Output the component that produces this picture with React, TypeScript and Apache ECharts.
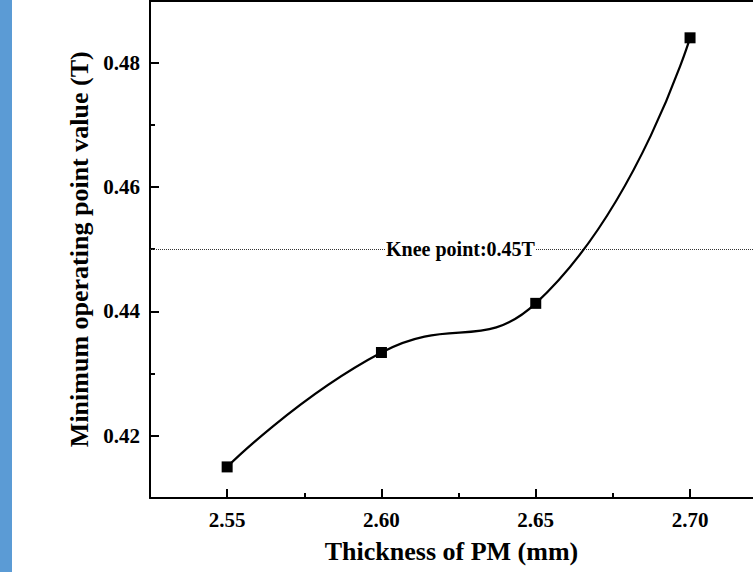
import React, { useEffect, useRef } from "react";
import * as echarts from "echarts";

const thickness = [2.55, 2.6, 2.65, 2.7];
const operatingPoint = [0.415, 0.4334, 0.4413, 0.484];
const xMajorTicks = [2.55, 2.6, 2.65, 2.7];
const xMinorTicks = [2.575, 2.625, 2.675];
const yMajorTicks = [0.42, 0.44, 0.46, 0.48];
const yMinorTicks = [0.43, 0.45, 0.47];
const kneeValue = 0.45;
const kneeLabel = "Knee point:0.45T";
const xTitle = "Thickness of PM (mm)";
const yTitle = "Minimum operating point value (T)";

const FONT = "'Liberation Serif', 'Times New Roman', serif";

export default function App() {
  const ref = useRef<HTMLDivElement>(null);
  useEffect(() => {
    if (!ref.current) return;
    const chart = echarts.init(ref.current, undefined, { renderer: "svg" });
    const gridBox = { left: 150, right: 0, top: 0.5, bottom: 74 };
    const xRange = { min: 2.525, max: 2.7204 };
    const yRange = { min: 0.41, max: 0.49 };
    chart.setOption({
      animation: false,
      backgroundColor: "#fff",
      graphic: [
        {
          type: "rect",
          left: 0,
          top: 0,
          shape: { width: 12, height: 572 },
          style: { fill: "#5b9bd5" },
          z: 100,
        },
      ],
      grid: [
        { ...gridBox, containLabel: false },
        { ...gridBox, containLabel: false },
      ],
      xAxis: [
        {
          type: "value",
          gridIndex: 0,
          position: "bottom",
          ...xRange,
          axisLine: { show: true, lineStyle: { color: "#000", width: 2 } },
          axisTick: {
            show: true,
            inside: true,
            length: 9,
            customValues: xMajorTicks,
            lineStyle: { color: "#000", width: 2 },
          },
          axisLabel: {
            show: true,
            customValues: xMajorTicks,
            formatter: (v: number) => v.toFixed(2),
            margin: 11,
            fontFamily: FONT,
            fontWeight: "bold",
            fontSize: 21,
            color: "#000",
          },
          splitLine: { show: false },
          name: xTitle,
          nameLocation: "middle",
          nameGap: 40,
          nameTextStyle: {
            fontFamily: FONT,
            fontWeight: "bold",
            fontSize: 26,
            color: "#000",
          },
        },
        {
          type: "value",
          gridIndex: 0,
          position: "top",
          ...xRange,
          axisLine: { show: true, lineStyle: { color: "#000", width: 2 } },
          axisTick: { show: false },
          axisLabel: { show: false },
          splitLine: { show: false },
        },
        {
          type: "value",
          gridIndex: 1,
          position: "bottom",
          ...xRange,
          axisLine: { show: false },
          axisTick: {
            show: true,
            inside: true,
            length: 5,
            customValues: xMinorTicks,
            lineStyle: { color: "#000", width: 2 },
          },
          axisLabel: { show: false },
          splitLine: { show: false },
        },
      ],
      yAxis: [
        {
          type: "value",
          gridIndex: 0,
          position: "left",
          ...yRange,
          axisLine: { show: true, lineStyle: { color: "#000", width: 2 } },
          axisTick: {
            show: true,
            inside: true,
            length: 9,
            customValues: yMajorTicks,
            lineStyle: { color: "#000", width: 2 },
          },
          axisLabel: {
            show: true,
            customValues: yMajorTicks,
            formatter: (v: number) => v.toFixed(2),
            margin: 10,
            fontFamily: FONT,
            fontWeight: "bold",
            fontSize: 21,
            color: "#000",
          },
          splitLine: { show: false },
          name: yTitle,
          nameLocation: "middle",
          nameGap: 57,
          nameTextStyle: {
            fontFamily: FONT,
            fontWeight: "bold",
            fontSize: 26,
            color: "#000",
          },
        },
        {
          type: "value",
          gridIndex: 1,
          position: "left",
          ...yRange,
          axisLine: { show: false },
          axisTick: {
            show: true,
            inside: true,
            length: 5,
            customValues: yMinorTicks,
            lineStyle: { color: "#000", width: 2 },
          },
          axisLabel: { show: false },
          splitLine: { show: false },
        },
      ],
      series: [
        {
          type: "line",
          xAxisIndex: 0,
          yAxisIndex: 0,
          data: thickness.map((x, i) => [x, operatingPoint[i]]),
          smooth: 0.5,
          symbol: "rect",
          symbolSize: 11,
          itemStyle: { color: "#000" },
          lineStyle: { color: "#000", width: 2.2 },
          z: 5,
          markLine: {
            silent: true,
            symbol: "none",
            data: [{ yAxis: kneeValue }],
            lineStyle: { type: "dotted", color: "#333", width: 1 },
            label: {
              show: true,
              position: "insideMiddle",
              formatter: kneeLabel,
              offset: [9, 0],
              backgroundColor: "#fff",
              padding: [0, 1],
              fontFamily: FONT,
              fontWeight: "bold",
              fontSize: 20,
              color: "#000",
            },
            z: 1,
          },
        },
      ],
    });
    return () => chart.dispose();
  }, []);
  return (
    <div
      ref={ref}
      style={{ position: "fixed", left: 0, top: 0, width: 753, height: 572 }}
    />
  );
}
